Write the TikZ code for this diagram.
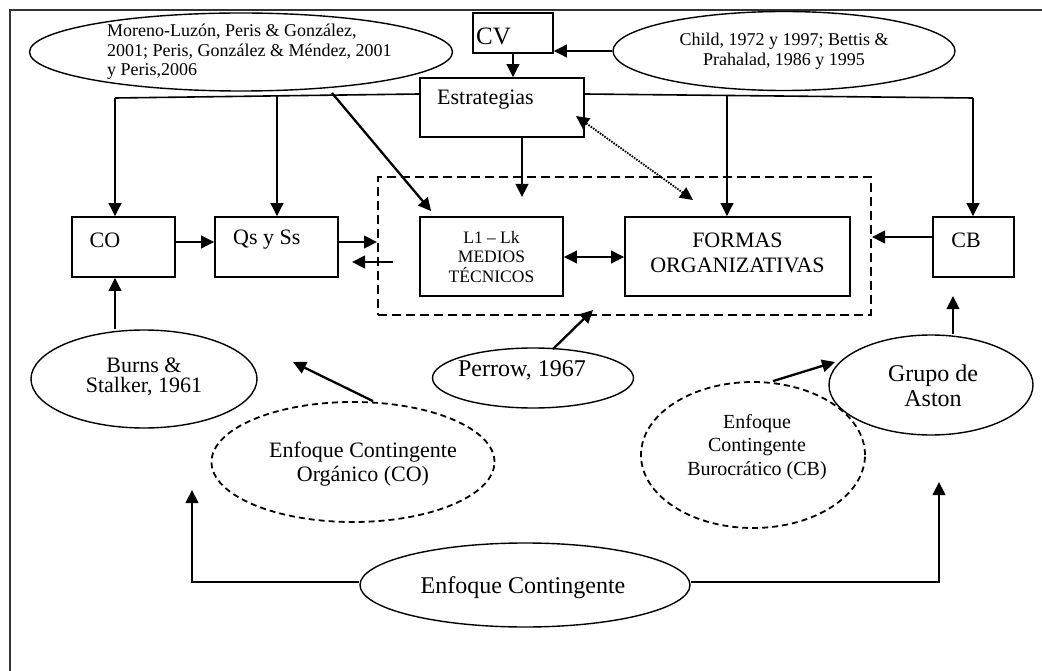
\documentclass[tikz,border=0pt]{standalone}
\usepackage{fontspec}
\setmainfont{Liberation Serif}
\usetikzlibrary{arrows.meta,shapes.geometric,calc}
\begin{document}
\begin{tikzpicture}[x=1pt,y=-1pt,
  box/.style={draw,line width=1.7pt,rectangle,inner sep=0pt},
  ell/.style={draw,line width=1.4pt,ellipse,inner sep=0pt},
  dell/.style={draw,line width=1.8pt,ellipse,inner sep=0pt,dash pattern=on 6pt off 4pt},
  dashbox/.style={draw,line width=2pt,rectangle,inner sep=0pt,dash pattern=on 9pt off 5pt},
  mytip/.tip={Triangle[length=13pt,width=12.5pt]},
  arr/.style={line width=2.3pt,-mytip},
  darr/.style={line width=2.3pt,mytip-mytip},
  dotarr/.style={line width=1.8pt,dash pattern=on 1.6pt off 1.2pt,mytip-mytip},
  conn/.style={line width=1.6pt},
  txt/.style={inner sep=0pt,font=\fontsize{22}{24}\selectfont},
]
\useasboundingbox (0,0) rectangle (1042,671);
\draw[line width=2pt,black!80] (10,671) -- (10,10) -- (1042,10);

% boxes
\node[box,minimum width=80pt,minimum height=40pt] (cv) at (513,33) {};
\node[box,minimum width=164pt,minimum height=59pt] (estr) at (502,107.5) {};
\node[box,minimum width=103pt,minimum height=60pt] (co) at (123.5,247) {};
\node[box,minimum width=123pt,minimum height=60pt] (qs) at (276.5,247) {};
\node[box,minimum width=143pt,minimum height=79pt] (lbox) at (491.5,256.5) {};
\node[box,minimum width=225pt,minimum height=79pt] (formas) at (737.5,256.5) {};
\node[box,minimum width=81pt,minimum height=60pt] (cb) at (973.5,247) {};
\node[dashbox,minimum width=493pt,minimum height=138pt] (dbox) at (624.5,246) {};

% ellipses
\node[ell,minimum width=423pt,minimum height=78pt] (mor) at (241,52) {};
\node[ell,minimum width=342pt,minimum height=79pt] (child) at (784,51) {};
\node[ell,minimum width=226pt,minimum height=98pt] (burns) at (144,379) {};
\node[ell,minimum width=201pt,minimum height=60pt] (perrow) at (533,378) {};
\node[ell,minimum width=204pt,minimum height=100pt] (grupo) at (931,385) {};
\node[dell,minimum width=283pt,minimum height=120pt] (org) at (353,462) {};
\node[dell,minimum width=224pt,minimum height=146pt] (buro) at (753,455) {};
\node[ell,minimum width=330pt,minimum height=84pt] (ec) at (525,585) {};

% texts
\node[txt,anchor=west,font=\fontsize{25}{27}\selectfont] (cvt) at (476,36) {CV};
\node[txt,anchor=west] (estrt) at (437,100) {Estrategias};
\node[txt] (cot) at (105,240) {CO};
\node[txt,anchor=west] (qst) at (233,240) {Qs y Ss};
\node[txt] (cbt) at (966,240) {CB};
\node[txt,align=center,font=\fontsize{17.5}{19.5}\selectfont] (lt) at (491.5,257) {L1 – Lk\\MEDIOS\\TÉCNICOS};
\node[txt,align=center,font=\fontsize{22}{25}\selectfont] (ft) at (737.5,253) {FORMAS\\ORGANIZATIVAS};
\node[txt,anchor=west,align=left,font=\fontsize{18}{19.5}\selectfont] (mort) at (107,52) {Moreno-Luzón, Peris \& González,\\2001; Peris, González \& Méndez, 2001\\y Peris,2006};
\node[txt,align=center,font=\fontsize{18}{20}\selectfont] (childt) at (784,51) {Child, 1972 y 1997; Bettis \&\\Prahalad, 1986 y 1995};
\node[txt,align=center,font=\fontsize{22}{20}\selectfont] (burnst) at (144,377) {Burns \&\\Stalker, 1961};
\node[txt,font=\fontsize{24}{26}\selectfont] (perrowt) at (522,370) {Perrow, 1967};
\node[txt,align=center,font=\fontsize{24}{25}\selectfont] (grupot) at (933,386) {Grupo de\\Aston};
\node[txt,align=center,font=\fontsize{22}{24}\selectfont] (orgt) at (363,464) {Enfoque Contingente\\Orgánico (CO)};
\node[txt,align=center,font=\fontsize{20}{23.5}\selectfont] (burot) at (757,447) {Enfoque\\Contingente\\Burocrático (CB)};
\node[txt,font=\fontsize{24}{26}\selectfont] (ect) at (523,588) {Enfoque Contingente};

% junction coordinates
\coordinate (jl) at (115,98);
\coordinate (jq) at (277,96);
\coordinate (jf) at (727,96);
\coordinate (jr) at (973,98);

\draw[conn] (estr.west |- 0,94) -- (jl);
\draw[conn] (estr.east |- 0,94) -- (jr);
\draw[arr] (jl) -- (jl |- co.north);
\draw[arr] (jq) -- (jq |- qs.north);
\draw[arr] (jf) -- (jf |- formas.north);
\draw[arr] (jr) -- (jr |- cb.north);

\draw[arr] (cv.south) -- (cv.south |- estr.north);
\draw[arr] (child.west) -- (cv.east |- child.west);

\coordinate (ed) at (522,197);
\draw[arr] (estr.south -| ed) -- (ed);
\coordinate (d1) at (576,116);
\coordinate (d2) at (693,200);
\draw[dotarr] (d1) -- (d2);
\coordinate (m1) at (332,93);
\draw[arr] (m1) -- ($(lbox.north west)+(12,-5)$);

\draw[arr] (co.east |- 0,242) -- (qs.west |- 0,242);
\draw[arr] (qs.east |- 0,242) -- (dbox.west |- 0,242);
\coordinate (r1) at (393,262);
\coordinate (r2) at (352,262);
\draw[arr] (r1) -- (r2);
\draw[darr] (lbox.east |- 0,257) -- (formas.west |- 0,257);
\draw[arr] (cb.west |- 0,237) -- (dbox.east |- 0,237);

\draw[arr] (jl |- burns.north) -- (jl |- co.south);
\coordinate (g2) at (953,296);
\draw[arr] (grupo.north -| g2) -- (g2);
\coordinate (p1) at (553,349);
\coordinate (p2) at (593,310);
\draw[arr] (p1) -- (p2);
\coordinate (o2) at (293,362);
\draw[arr] ($(org.north)+(20,0)$) -- (o2);
\coordinate (b2) at (835,362);
\draw[arr] ($(buro.north)+(20,0)$) -- (b2);

\coordinate (k1) at (192,582);
\coordinate (k2) at (192,490);
\draw[arr] (ec.west |- k1) -- (k1) -- (k2);
\coordinate (k3) at (939,582);
\coordinate (k4) at (939,482);
\draw[arr] (ec.east |- k3) -- (k3) -- (k4);
\end{tikzpicture}
\end{document}
